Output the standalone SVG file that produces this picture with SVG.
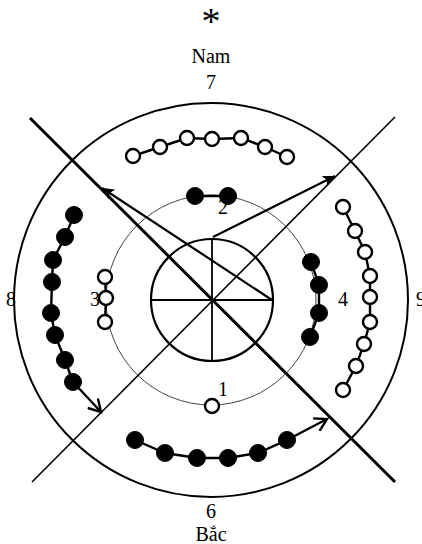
<svg xmlns="http://www.w3.org/2000/svg" width="422" height="544" viewBox="0 0 422 544">
<style>
.t{font-family:"Liberation Serif","Times New Roman",serif;font-size:20px;fill:#000;text-anchor:middle}
.w{fill:#fff;stroke:#000;stroke-width:2.4}
.b{fill:#000;stroke:#000;stroke-width:1}
.ch{fill:none;stroke:#000;stroke-width:2.4}
.ln{fill:none;stroke:#000}
</style>
<defs>
<marker id="fa" markerWidth="14" markerHeight="12" refX="12" refY="6" orient="auto" markerUnits="userSpaceOnUse">
<path d="M0,0 L12,6 L0,12 L3,6 Z" fill="#000"/>
</marker>
<marker id="oa" markerWidth="16" markerHeight="16" refX="13" refY="8" orient="auto" markerUnits="userSpaceOnUse">
<path d="M1,1 L13,8 L1,15" fill="none" stroke="#000" stroke-width="2.4"/>
</marker>
</defs>
<rect width="422" height="544" fill="#fff"/>

<g id="labels">
<text class="t" x="211" y="34" style="font-size:38px">*</text>
<text class="t" x="211" y="63">Nam</text>
<text class="t" x="211" y="89">7</text>
<text class="t" x="211" y="518">6</text>
<text class="t" x="211" y="541">Bắc</text>
<text class="t" x="11" y="306">8</text>
<text class="t" x="416" y="306" style="text-anchor:start">9</text>
</g>

<g id="circles">
<circle cx="211" cy="300" r="197" class="ln" stroke-width="2"/>
<circle cx="211" cy="300" r="105" fill="none" stroke="#444" stroke-width="1"/>
<circle cx="212" cy="300" r="61" class="ln" stroke-width="2.2"/>
<line x1="151" y1="300" x2="273" y2="300" class="ln" stroke-width="1.8"/>
<line x1="212" y1="239" x2="212" y2="361" class="ln" stroke-width="1.8"/>
</g>

<g id="connectors">
<line x1="32" y1="482" x2="395" y2="117" class="ln" stroke-width="1.6"/>
<line x1="30" y1="118" x2="395" y2="482" class="ln" stroke-width="3"/>
<line x1="272" y1="300" x2="102" y2="188" class="ln" stroke-width="2.2" marker-end="url(#fa)"/>
<line x1="213" y1="237" x2="335" y2="176" class="ln" stroke-width="2.2" marker-end="url(#fa)"/>
<line x1="73" y1="382" x2="101" y2="412" class="ln" stroke-width="2.4" marker-end="url(#oa)"/>
<line x1="287" y1="440" x2="327" y2="419" class="ln" stroke-width="2.4" marker-end="url(#oa)"/>
</g>

<g id="group7">
<polyline class="ch" points="133,156 160,147 187,138 212,139 241,138 265,147 287,157"/>
<circle class="w" cx="133" cy="156" r="7"/>
<circle class="w" cx="160" cy="147" r="7"/>
<circle class="w" cx="187" cy="138" r="7"/>
<circle class="w" cx="212" cy="139" r="7"/>
<circle class="w" cx="241" cy="138" r="7"/>
<circle class="w" cx="265" cy="147" r="7"/>
<circle class="w" cx="287" cy="157" r="7"/>
</g>

<g id="group2">
<line x1="195" y1="196" x2="228" y2="196" class="ch"/>
<circle class="b" cx="195" cy="196" r="8.5"/>
<circle class="b" cx="228" cy="196" r="8.5"/>
<text class="t" x="223" y="214">2</text>
</g>

<g id="group3">
<polyline class="ch" points="105,277 106,298 105,322"/>
<circle class="w" cx="105" cy="277" r="7"/>
<circle class="w" cx="106" cy="298" r="7"/>
<circle class="w" cx="105" cy="322" r="7"/>
<text class="t" x="95" y="306">3</text>
</g>

<g id="group4">
<polyline class="ch" points="311,262 319,285 319,313 310,337"/>
<circle class="b" cx="311" cy="262" r="8.5"/>
<circle class="b" cx="319" cy="285" r="8.5"/>
<circle class="b" cx="319" cy="313" r="8.5"/>
<circle class="b" cx="310" cy="337" r="8.5"/>
<text class="t" x="343" y="306">4</text>
</g>

<g id="group1">
<circle class="w" cx="212" cy="406" r="7"/>
<text class="t" x="223" y="396">1</text>
</g>

<g id="group8">
<polyline class="ch" points="74,215 65,237 53,260 52,282 51,313 55,335 65,360 73,382"/>
<circle class="b" cx="74" cy="215" r="8.5"/>
<circle class="b" cx="65" cy="237" r="8.5"/>
<circle class="b" cx="53" cy="260" r="8.5"/>
<circle class="b" cx="52" cy="282" r="8.5"/>
<circle class="b" cx="51" cy="313" r="8.5"/>
<circle class="b" cx="55" cy="335" r="8.5"/>
<circle class="b" cx="65" cy="360" r="8.5"/>
<circle class="b" cx="73" cy="382" r="8.5"/>
</g>

<g id="group9">
<polyline class="ch" points="343,207 355,231 365,252 370,276 370,297 370,322 364,344 356,366 343,390"/>
<circle class="w" cx="343" cy="207" r="7"/>
<circle class="w" cx="355" cy="231" r="7"/>
<circle class="w" cx="365" cy="252" r="7"/>
<circle class="w" cx="370" cy="276" r="7"/>
<circle class="w" cx="370" cy="297" r="7"/>
<circle class="w" cx="370" cy="322" r="7"/>
<circle class="w" cx="364" cy="344" r="7"/>
<circle class="w" cx="356" cy="366" r="7"/>
<circle class="w" cx="343" cy="390" r="7"/>
</g>

<g id="group6">
<polyline class="ch" points="135,440 165,453 197,458 228,458 258,453 287,440"/>
<circle class="b" cx="135" cy="440" r="8.5"/>
<circle class="b" cx="165" cy="453" r="8.5"/>
<circle class="b" cx="197" cy="458" r="8.5"/>
<circle class="b" cx="228" cy="458" r="8.5"/>
<circle class="b" cx="258" cy="453" r="8.5"/>
<circle class="b" cx="287" cy="440" r="8.5"/>
</g>
</svg>
